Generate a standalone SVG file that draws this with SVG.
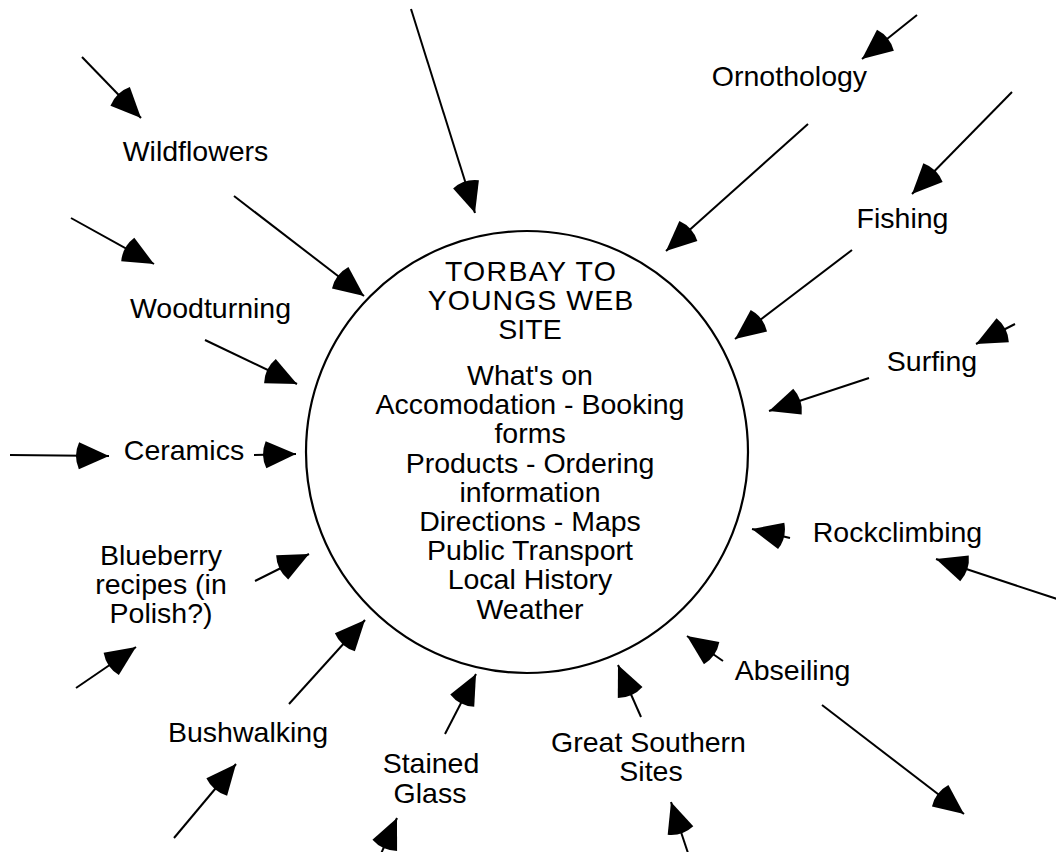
<svg xmlns="http://www.w3.org/2000/svg" width="1056" height="852" viewBox="0 0 1056 852">
<style>
text{font-family:"Liberation Sans",Arial,Helvetica,sans-serif;font-size:28.5px;fill:#000;text-anchor:middle}
.t1{letter-spacing:1.3px}
.t2{letter-spacing:1px}
.conn line{stroke:#000;stroke-width:2;fill:none;marker-end:url(#ah)}
.hub{fill:#fff;stroke:#000;stroke-width:2.2}
</style>
<defs>
<marker id="ah" markerUnits="userSpaceOnUse" markerWidth="40" markerHeight="32" refX="30" refY="15" orient="auto" overflow="visible">
<path d="M30,15 L0,1.5 Q-6,15 0,28.5 Z" fill="#000"/>
</marker>
</defs>
<rect width="1056" height="852" fill="#fff"/>
<g id="hub">
<circle class="hub" cx="527" cy="452" r="221"/>
<text class="t1" x="531" y="281">TORBAY TO</text>
<text class="t2" x="531" y="310">YOUNGS WEB</text>
<text x="530" y="339">SITE</text>
<text x="530" y="385">What's on</text>
<text x="530" y="414">Accomodation - Booking</text>
<text x="530" y="443">forms</text>
<text x="530" y="472.5">Products - Ordering</text>
<text x="530" y="501.5">information</text>
<text x="530" y="530.5">Directions - Maps</text>
<text x="530" y="559.5">Public Transport</text>
<text x="530" y="589">Local History</text>
<text x="530" y="618.5">Weather</text>
</g>
<g id="wildflowers"><text x="195.5" y="161">Wildflowers</text></g>
<g id="woodturning"><text x="210.5" y="318">Woodturning</text></g>
<g id="ceramics"><text x="184" y="460">Ceramics</text></g>
<g id="blueberry"><text x="161" y="565">Blueberry</text><text x="161" y="594">recipes (in</text><text x="161" y="623">Polish?)</text></g>
<g id="bushwalking"><text x="248" y="742">Bushwalking</text></g>
<g id="stained-glass"><text x="431" y="773">Stained</text><text x="430" y="803">Glass</text></g>
<g id="great-southern"><text x="648.5" y="752">Great Southern</text><text x="651" y="781">Sites</text></g>
<g id="abseiling"><text x="792.5" y="680">Abseiling</text></g>
<g id="rockclimbing"><text x="897.5" y="542">Rockclimbing</text></g>
<g id="surfing"><text x="932" y="371">Surfing</text></g>
<g id="fishing"><text x="902.5" y="228">Fishing</text></g>
<g id="ornothology"><text x="789.5" y="86">Ornothology</text></g>
<g id="connectors" class="conn">
<line x1="82" y1="57" x2="141" y2="118"/>
<line x1="411" y1="9" x2="475" y2="213"/>
<line x1="234" y1="196" x2="364" y2="296"/>
<line x1="71" y1="218" x2="154" y2="264"/>
<line x1="205" y1="340" x2="297" y2="384"/>
<line x1="10" y1="455" x2="109" y2="456"/>
<line x1="254" y1="455" x2="296" y2="454"/>
<line x1="255" y1="581" x2="309" y2="554"/>
<line x1="76" y1="688" x2="136" y2="647"/>
<line x1="289" y1="704" x2="365" y2="620"/>
<line x1="174" y1="838" x2="236" y2="764"/>
<line x1="445" y1="734" x2="476" y2="674"/>
<line x1="380" y1="856" x2="397" y2="818"/>
<line x1="641" y1="717" x2="618" y2="665"/>
<line x1="689" y1="856" x2="671" y2="802"/>
<line x1="723" y1="661" x2="687" y2="636"/>
<line x1="822" y1="705" x2="964" y2="814"/>
<line x1="1060" y1="600" x2="936" y2="559"/>
<line x1="790" y1="538" x2="752" y2="529"/>
<line x1="869" y1="378" x2="769" y2="411"/>
<line x1="1015" y1="324" x2="976" y2="344"/>
<line x1="852" y1="250" x2="735" y2="339"/>
<line x1="1012" y1="92" x2="912" y2="194"/>
<line x1="808" y1="124" x2="666" y2="251"/>
<line x1="917" y1="15" x2="862" y2="59"/>
</g>
</svg>
